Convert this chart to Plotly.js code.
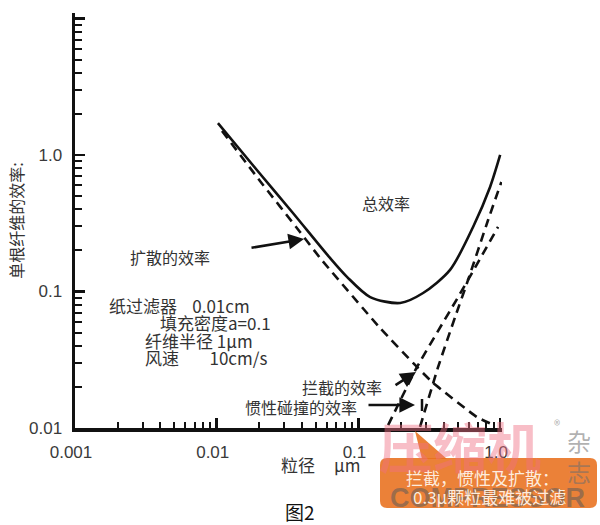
<!DOCTYPE html>
<html>
<head>
<meta charset="utf-8">
<script src="https://cdn.plot.ly/plotly-3.0.1.min.js"></script>
<style>html,body{margin:0;padding:0;background:#fff;}#chart{width:600px;height:525px;}</style>
</head>
<body>
<div id="chart"></div>
<script>
// ---- data ----
const totalX = [0.0102, 0.0192, 0.0345, 0.063, 0.083, 0.121, 0.197, 0.286, 0.443, 0.644, 0.849, 1.0];
const totalY = [1.71, 0.776, 0.376, 0.176, 0.128, 0.091, 0.0824, 0.0975, 0.144, 0.297, 0.583, 1.0];

const diffX = [0.0109, 0.0202, 0.0387, 0.0536, 0.142, 0.259, 0.336, 0.687, 0.85];
const diffY = [1.50, 0.645, 0.273, 0.176, 0.054, 0.028, 0.0214, 0.0120, 0.0108];

const interX = [0.162, 0.259, 0.505, 0.634, 0.966];
const interY = [0.0105, 0.028, 0.091, 0.137, 0.297];

const impactX = [0.272, 0.365, 0.481, 0.593, 0.822, 1.02];
const impactY = [0.0102, 0.028, 0.065, 0.121, 0.334, 0.634];

const xTickVals = [0.001, 0.01, 0.1, 1];
const xTickText = ['0.001', '0.01', '0.1', '1.0'];
const yTickVals = [0.01, 0.1, 1, 10];
const yTickText = ['0.01', '0.1', '1.0', ''];

// ---- layout helpers ----
const L = 75, R = 502, T = 13, B = 428;
const px = x => (x - L) / (R - L);
const py = y => (B - y) / (B - T);

function minorTicks(d0, d1) {
  const v = [];
  for (let d = d0; d <= d1; d++) for (let k = 2; k <= 9; k++) v.push(k * Math.pow(10, d));
  return v;
}

const FONT = 'Liberation Sans, Arial, Noto Sans CJK SC, sans-serif';
const CJK = 'Noto Sans CJK SC, Liberation Sans, sans-serif';
const TXT = '#333';

const lineStyle = {color: '#111', width: 2.6, shape: 'spline', smoothing: 0.8};
const dashStyle = {color: '#111', width: 2.6, shape: 'spline', smoothing: 0.35, dash: '9px,6px'};

const traces = [
  {x: totalX, y: totalY, name: '总效率', mode: 'lines', line: lineStyle},
  {x: diffX, y: diffY, name: '扩散的效率', mode: 'lines', line: dashStyle},
  {x: interX, y: interY, name: '拦截的效率', mode: 'lines', line: dashStyle},
  {x: impactX, y: impactY, name: '惯性碰撞的效率', mode: 'lines', line: dashStyle}
];

function txt(x, y, text, opts) {
  return Object.assign({xref: 'paper', yref: 'paper', x: px(x), y: py(y), text: text,
    showarrow: false, xanchor: 'center', yanchor: 'middle',
    font: {family: CJK, size: 16, color: TXT}}, opts || {});
}
function arrow(hx, hy, tx, ty) {
  return {xref: 'paper', yref: 'paper', x: px(hx), y: py(hy), ax: tx - hx, ay: ty - hy,
    text: '', showarrow: true, arrowhead: 2, arrowsize: 1.2, arrowwidth: 2.6,
    arrowcolor: '#111', standoff: 0, startstandoff: 0};
}

const NB = '\u00a0';

const annotations = [
  txt(386, 203, '总效率'),
  txt(170, 257, '扩散的效率'),
  txt(107, 305, '纸过滤器' + NB.repeat(4) + '0.01cm', {xanchor: 'left', font: {family: CJK, size: 17, color: TXT}}),
  txt(158, 322, '填充密度a=0.1', {xanchor: 'left', font: {family: CJK, size: 17, color: TXT}}),
  txt(143, 340, '纤维半径 1μm', {xanchor: 'left', font: {family: CJK, size: 17, color: TXT}}),
  txt(143, 357, '风速' + NB.repeat(8) + '10cm/s', {xanchor: 'left', font: {family: CJK, size: 17, color: TXT}}),
  txt(342, 387, '拦截的效率'),
  txt(301, 407, '惯性碰撞的效率'),
  txt(320, 464, '粒径' + NB.repeat(5) + 'μm', {font: {family: CJK, size: 17, color: TXT}}),
  txt(300, 511, '图2', {font: {family: CJK, size: 19, color: '#111'}}),
  arrow(304, 239, 250, 248),
  arrow(416, 372, 394, 386),
  arrow(415, 405, 367, 405),
  // magazine watermark
  txt(460, 445, '<b>压缩机</b>', {font: {family: CJK, size: 54, color: 'rgba(240,110,130,0.45)'}}),
  txt(579, 440, '杂', {font: {family: CJK, size: 24, color: 'rgba(110,110,110,0.55)'}}),
  txt(579, 471, '志', {font: {family: CJK, size: 24, color: 'rgba(110,110,110,0.55)'}}),
  txt(557, 424, '®', {font: {family: CJK, size: 13, color: 'rgba(110,110,110,0.55)'}}),
  txt(487, 498, '<b>COMPRESSOR</b>', {font: {family: FONT, size: 27, color: 'rgba(90,90,90,0.55)'}}),
  txt(482, 477, '拦截，惯性及扩散：', {font: {family: CJK, size: 17, color: 'rgba(255,244,232,0.95)'}}),
  txt(489, 496, '0.3μ颗粒最难被过滤', {font: {family: CJK, size: 17, color: 'rgba(255,244,232,0.95)'}})
];

function roundRect(x0, y0, x1, y1, r) {
  const X = v => px(v), Y = v => py(v);
  return 'M' + X(x0 + r) + ',' + Y(y0) + ' L' + X(x1 - r) + ',' + Y(y0) +
    ' Q' + X(x1) + ',' + Y(y0) + ' ' + X(x1) + ',' + Y(y0 + r) +
    ' L' + X(x1) + ',' + Y(y1 - r) +
    ' Q' + X(x1) + ',' + Y(y1) + ' ' + X(x1 - r) + ',' + Y(y1) +
    ' L' + X(x0 + r) + ',' + Y(y1) +
    ' Q' + X(x0) + ',' + Y(y1) + ' ' + X(x0) + ',' + Y(y1 - r) +
    ' L' + X(x0) + ',' + Y(y0 + r) +
    ' Q' + X(x0) + ',' + Y(y0) + ' ' + X(x0 + r) + ',' + Y(y0) + ' Z';
}

const shapes = [
  {type: 'line', xref: 'paper', yref: 'paper', x0: px(422), x1: px(422), y0: py(399), y1: py(411),
   line: {color: '#111', width: 2.5}},
  {type: 'path', xref: 'paper', yref: 'paper', path: roundRect(380, 458, 597, 508, 7),
   fillcolor: 'rgba(232,112,28,0.88)', line: {width: 0}, layer: 'above'},
  {type: 'path', xref: 'paper', yref: 'paper',
   path: 'M' + px(415) + ',' + py(431) + ' L' + px(447) + ',' + py(459) + ' L' + px(422) + ',' + py(459) + ' Z',
   fillcolor: 'rgba(232,112,28,0.88)', line: {width: 0}, layer: 'above'}
];

const axisCommon = {
  type: 'log', showgrid: false, zeroline: false, showline: true, linecolor: '#111', linewidth: 3.5,
  ticks: 'inside', ticklen: 10, tickwidth: 2.5, tickcolor: '#111', tickmode: 'array',
  tickfont: {family: FONT, size: 17, color: '#3a3a3a'}, ticklabelstandoff: 6, automargin: false
};

const layout = {
  width: 600, height: 525,
  margin: {l: L, r: 600 - R, t: T, b: 525 - B, pad: 0},
  paper_bgcolor: '#fff', plot_bgcolor: '#fff',
  showlegend: false,
  font: {family: FONT, color: TXT},
  xaxis: Object.assign({}, axisCommon, {
    range: [-3, 0.013], tickvals: xTickVals, ticktext: xTickText, ticklabelshift: -4,
    minor: {tickmode: 'array', tickvals: minorTicks(-3, -1), ticks: 'inside', ticklen: 6, tickwidth: 2, tickcolor: '#111'}
  }),
  yaxis: Object.assign({}, axisCommon, {
    range: [-2, 1.04], tickvals: yTickVals, ticktext: yTickText,
    minor: {tickmode: 'array', tickvals: minorTicks(-2, 0), ticks: 'inside', ticklen: 7, tickwidth: 2, tickcolor: '#111'},
    title: {text: '单根纤维的效率:', font: {family: CJK, size: 16, color: TXT}, standoff: 2}
  }),
  annotations: annotations,
  shapes: shapes
};

Plotly.newPlot('chart', traces, layout, {staticPlot: true, displayModeBar: false});
</script>
</body>
</html>
